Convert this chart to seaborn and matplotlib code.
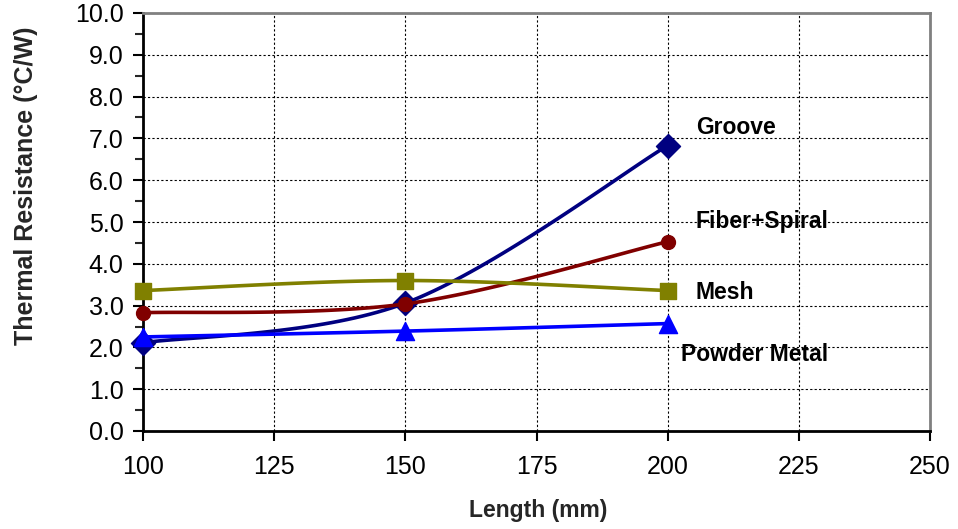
import numpy as np
import pandas as pd
import matplotlib
matplotlib.use("Agg")
import matplotlib.pyplot as plt
import seaborn as sns
from matplotlib.ticker import MultipleLocator, FormatStrFormatter

# data
length_mm = [100, 150, 200]
groove = [2.11, 3.06, 6.83]
fiber_spiral = [2.83, 3.04, 4.53]
mesh = [3.36, 3.60, 3.36]
powder_metal = [2.25, 2.39, 2.57]

series_names = ["Groove", "Fiber+Spiral", "Mesh", "Powder Metal"]
series_values = [groove, fiber_spiral, mesh, powder_metal]
colors = {"Groove": "#000080", "Fiber+Spiral": "#800000",
          "Mesh": "#808000", "Powder Metal": "#0000FF"}
markers = {"Groove": "D", "Fiber+Spiral": "o", "Mesh": "s", "Powder Metal": "^"}
marker_sizes = {"Groove": 150, "Fiber+Spiral": 100, "Mesh": 120, "Powder Metal": 170}
# label positions (x, y) in data units
label_pos = {"Groove": (205.4, 7.25), "Fiber+Spiral": (205.4, 5.01),
             "Mesh": (205.4, 3.31), "Powder Metal": (202.6, 1.82)}


def smooth(xs, ys, n=40):
    # Catmull-Rom style smoothing like Excel's "smoothed line" (rendering only)
    p = np.column_stack([xs, ys]).astype(float)
    p = np.vstack([p[0], p, p[-1]])
    out = []
    for i in range(1, len(p) - 2):
        p0, p1, p2, p3 = p[i - 1], p[i], p[i + 1], p[i + 2]
        b1 = p1 + (p2 - p0) / 6
        b2 = p2 - (p3 - p1) / 6
        t = np.linspace(0, 1, n)[:, None]
        seg = ((1 - t) ** 3) * p1 + 3 * ((1 - t) ** 2) * t * b1 + 3 * (1 - t) * t ** 2 * b2 + t ** 3 * p2
        out.append(seg if i == 1 else seg[1:])
    c = np.vstack(out)
    return c[:, 0], c[:, 1]


sns.set_style("white")
plt.rcParams['font.family'] = ['Liberation Sans', 'DejaVu Sans']

fig = plt.figure(figsize=(9.58, 5.29), dpi=100)
ax = fig.add_axes([143 / 958, 1 - 431 / 529, 787 / 958, 418 / 529])

for z, (name, vals) in enumerate(zip(series_names, series_values)):
    sx, sy = smooth(length_mm, vals)
    curve = pd.DataFrame({"x": sx, "y": sy})
    sns.lineplot(data=curve, x="x", y="y", color=colors[name], linewidth=2.6,
                 sort=False, ax=ax, zorder=3 + 2 * z)
    pts = pd.DataFrame({"x": length_mm, "y": vals})
    sns.scatterplot(data=pts, x="x", y="y", marker=markers[name], color=colors[name],
                    s=marker_sizes[name], edgecolor=colors[name], linewidth=1,
                    ax=ax, zorder=4 + 2 * z, clip_on=False)
    lx, ly = label_pos[name]
    ax.text(lx, ly, name, fontsize=16.5, fontweight="bold", ha="left", va="center",
            color="black", zorder=20, clip_on=False)

ax.set_xlim(100, 250)
ax.set_ylim(0, 10)
ax.xaxis.set_major_locator(MultipleLocator(25))
ax.yaxis.set_major_locator(MultipleLocator(1))
ax.yaxis.set_minor_locator(MultipleLocator(0.5))
ax.yaxis.set_major_formatter(FormatStrFormatter("%.1f"))

ax.grid(True, which="major", color="black", linestyle=(0, (2, 2)), linewidth=0.8)
ax.set_axisbelow(True)

for side in ["left", "bottom"]:
    ax.spines[side].set_color("black")
    ax.spines[side].set_linewidth(2)
for side in ["top", "right"]:
    ax.spines[side].set_color("#808080")
    ax.spines[side].set_linewidth(2)

ax.tick_params(axis="both", which="major", direction="out", length=7, width=1.5,
               labelsize=18, colors="black", left=True, bottom=True)
ax.tick_params(axis="y", which="minor", direction="out", length=6, width=1.5, left=True)
ax.tick_params(axis="x", pad=10)
ax.tick_params(axis="y", which="major", pad=7)

ax.set_xlabel("Length (mm)", fontsize=16.5, fontweight="bold")
ax.set_ylabel("Thermal Resistance (°C/W)", fontsize=18, fontweight="bold")
ax.xaxis.set_label_coords(0.502, -0.163)
ax.yaxis.set_label_coords(-0.133, 0.586)

fig.savefig("out.png", dpi=100)
